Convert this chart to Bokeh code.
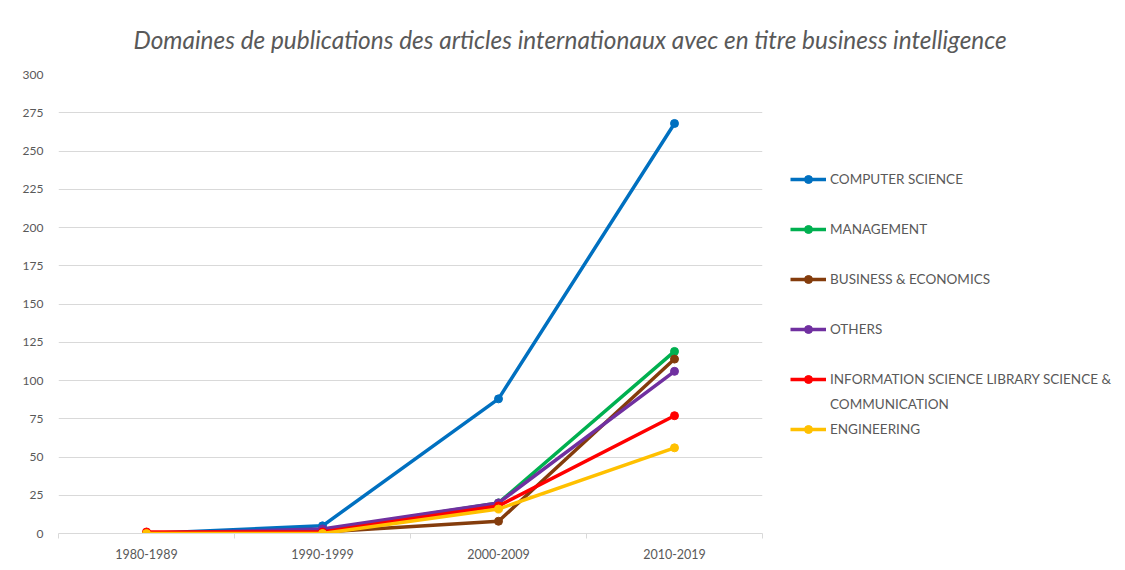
from bokeh.plotting import figure
from bokeh.models import FixedTicker, Legend, LegendItem
from bokeh.embed import file_html
from bokeh.resources import INLINE

periods = ["1980-1989", "1990-1999", "2000-2009", "2010-2019"]
computer_science = [0, 5, 88, 268]
management = [0, 2, 20, 119]
business_economics = [0, 1, 8, 114]
others = [0, 3, 20, 106]
info_science = [1, 1, 18, 77]
engineering = [0, 0, 16, 56]

series_names = ["COMPUTER SCIENCE", "MANAGEMENT", "BUSINESS & ECONOMICS", "OTHERS",
                "INFORMATION SCIENCE LIBRARY SCIENCE &", "ENGINEERING"]
# continuation line shown under a wrapped legend label (None = blank row)
label_continuations = [None, None, None, None, "COMMUNICATION", None]
series_values = [computer_science, management, business_economics, others, info_science, engineering]
colors = ["#0070C0", "#00B050", "#843C0C", "#7030A0", "#FF0000", "#FFC000"]

xs = [i + 0.5 for i in range(len(periods))]
FONT = "Lato"
TXT = "#595959"

p = figure(frame_width=704, frame_height=459, x_range=(0, len(periods)), y_range=(0, 300),
           output_backend="svg", toolbar_location=None,
           min_border_left=58, min_border_top=74, min_border_bottom=36, min_border_right=355,
           title="Domaines de publications des articles internationaux avec en titre  business intelligence")
p.outline_line_color = None
p.background_fill_color = "white"
p.border_fill_color = "white"

p.title.text_font = FONT
p.title.text_font_style = "italic"
p.title.text_font_size = "24.4px"
p.title.text_color = TXT
p.title.align = "left"
p.title.offset = 75
p.title.standoff = 41

items = []
for i, (name, vals, c) in enumerate(zip(series_names, series_values, colors)):
    r1 = p.line(xs, vals, line_color=c, line_width=3.5)
    r2 = p.scatter(xs, vals, marker="circle", size=8, fill_color=c, line_color=c)
    items.append(LegendItem(label=name, renderers=[r1, r2]))
    if i < len(series_names) - 1:
        cont = label_continuations[i]
        items.append(LegendItem(label=cont if cont else " ", renderers=[]))

legend = Legend(items=items, location="center_left")
legend.margin = 28
legend.padding = 0
legend.spacing = 5
legend.glyph_width = 36
legend.glyph_height = 20
legend.label_height = 20
legend.label_standoff = 4
legend.label_text_font = FONT
legend.label_text_font_size = "13.5px"
legend.label_text_color = TXT
legend.border_line_color = None
legend.background_fill_alpha = 0
p.add_layout(legend, "right")

# y axis
p.yaxis.ticker = FixedTicker(ticks=list(range(0, 301, 25)))
p.yaxis.axis_line_color = None
p.yaxis.major_tick_line_color = None
p.yaxis.minor_tick_line_color = None
p.yaxis.major_label_text_font = FONT
p.yaxis.major_label_text_font_size = "12px"
p.yaxis.major_label_text_color = TXT
p.yaxis.major_label_standoff = 9
p.ygrid.grid_line_color = "#d9d9d9"
p.ygrid.grid_line_width = 1

# x axis
p.xaxis.ticker = FixedTicker(ticks=xs, minor_ticks=list(range(len(periods) + 1)))
p.xaxis.major_label_overrides = {x: lab for x, lab in zip(xs, periods)}
p.xaxis.axis_line_color = "#d9d9d9"
p.xaxis.major_tick_line_color = None
p.xaxis.minor_tick_line_color = "#d9d9d9"
p.xaxis.minor_tick_out = 5
p.xaxis.minor_tick_in = 0
p.xaxis.major_label_text_font = FONT
p.xaxis.major_label_text_font_size = "12.5px"
p.xaxis.major_label_text_color = TXT
p.xaxis.major_label_standoff = 9
p.xgrid.grid_line_color = None

open("out.html", "w").write(file_html(p, INLINE))
